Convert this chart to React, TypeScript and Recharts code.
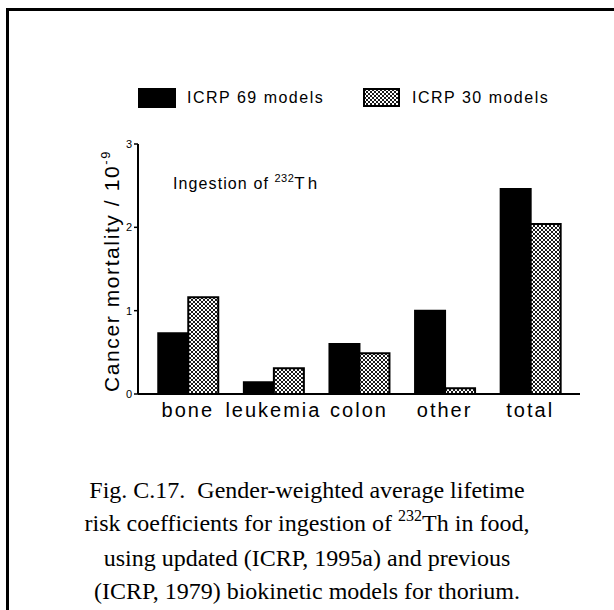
import React from "react";
import { BarChart, Bar, XAxis, YAxis, Legend, Customized } from "recharts";

const organs = ["bone", "leukemia", "colon", "other", "total"];
const icrp69 = [0.73, 0.14, 0.6, 1.0, 2.46];
const icrp30 = [1.16, 0.31, 0.49, 0.07, 2.04];
const yTicks = [0, 1, 2, 3];

const data = organs.map((name, i) => ({ name, icrp69: icrp69[i], icrp30: icrp30[i] }));

const SANS = "'Liberation Sans', Arial, Helvetica, sans-serif";
const SERIF = "'Liberation Serif', 'Times New Roman', Times, serif";

function Hatch({ id }: { id: string }) {
  return (
    <pattern id={id} width="4" height="4" patternUnits="userSpaceOnUse">
      <rect width="4" height="4" fill="#fff" />
      <path d="M0,0 L4,4 M4,0 L0,4" stroke="#000" strokeWidth="0.9" />
    </pattern>
  );
}

function LegendBox() {
  const item = (label: string, fill: React.ReactNode, width: number) => (
    <div style={{ display: "flex", alignItems: "center", width }}>
      <svg width={38} height={20} style={{ display: "block" }}>
        {fill}
      </svg>
      <span style={{ marginLeft: 11, fontFamily: SANS, fontSize: 16, letterSpacing: 1.5, color: "#000" }}>
        {label}
      </span>
    </div>
  );
  return (
    <div style={{ display: "flex", paddingLeft: 138 }}>
      {item("ICRP 69 models", <rect x={1} y={1} width={36} height={18} fill="#000" stroke="#000" strokeWidth={2} />, 225)}
      {item(
        "ICRP 30 models",
        <>
          <defs>
            <Hatch id="hatchLegend" />
          </defs>
          <rect x={1} y={1} width={35} height={17} fill="url(#hatchLegend)" stroke="#000" strokeWidth={2} />
        </>,
        225
      )}
    </div>
  );
}

function YLabel(props: any) {
  const cy = 271;
  return (
    <text
      x={119}
      y={cy}
      transform={`rotate(-90 119 ${cy})`}
      textAnchor="middle"
      fontFamily={SANS}
      fontSize={21}
      letterSpacing={1.6}
      fill="#000"
    >
      Cancer mortality / 10
      <tspan fontSize={13} dy={-9}>-9</tspan>
    </text>
  );
}

function Annotation() {
  return (
    <text x={173} y={189} fontFamily={SANS} fontSize={16} letterSpacing={1.1} fill="#000">
      Ingestion of{" "}
      <tspan fontSize={11} dy={-7} letterSpacing={0.5}>232</tspan>
      <tspan dy={7} fontSize={17} letterSpacing={3}>Th</tspan>
    </text>
  );
}

export default function App() {
  return (
    <div style={{ position: "absolute", left: 0, top: 0, width: 614, height: 610, background: "#fff", overflow: "hidden" }}>
      <div
        style={{
          position: "absolute",
          left: 6,
          top: 8,
          width: 700,
          height: 700,
          borderLeft: "3px solid #000",
          borderTop: "3px solid #000",
        }}
      />
      <div style={{ position: "absolute", left: 0, top: 0 }}>
        <BarChart
          width={614}
          height={610}
          data={data}
          margin={{ top: 144, right: 34, bottom: 186, left: 0 }}
          barCategoryGap="15.5%"
          barGap={0}
        >
          <defs>
            <Hatch id="hatchBar" />
          </defs>
          <XAxis
            dataKey="name"
            padding={{ left: 7, right: 7 }}
            axisLine={{ stroke: "#000", strokeWidth: 2 }}
            tickLine={false}
            tickSize={0}
            tickMargin={9}
            interval={0}
            tick={{ fontSize: 20, fill: "#000", fontFamily: SANS, letterSpacing: 2 } as any}
          />
          <YAxis
            width={138}
            domain={[0, 3]}
            ticks={yTicks}
            axisLine={{ stroke: "#000", strokeWidth: 2 }}
            tickLine={{ stroke: "#000", strokeWidth: 1.5 }}
            tickSize={4}
            tickMargin={2}
            tick={{ fontSize: 11, fill: "#000", fontFamily: SANS }}
            label={<YLabel />}
          />
          <Legend verticalAlign="middle" content={<LegendBox />} wrapperStyle={{ top: 88, left: 0, width: 614 }} />
          <Bar dataKey="icrp69" name="ICRP 69 models" fill="#000" stroke="#000" strokeWidth={2} isAnimationActive={false} />
          <Bar dataKey="icrp30" name="ICRP 30 models" fill="url(#hatchBar)" stroke="#000" strokeWidth={2} isAnimationActive={false} />
          <Customized component={<Annotation />} />
        </BarChart>
      </div>
      <div
        style={{
          position: "absolute",
          left: 0,
          top: 474,
          width: 614,
          textAlign: "center",
          fontFamily: SERIF,
          fontSize: 24,
          lineHeight: "33px",
          color: "#000",
        }}
      >
        <div>Fig. C.17.&nbsp; Gender-weighted average lifetime</div>
        <div>
          risk coefficients for ingestion of{" "}
          <span style={{ fontSize: 16, position: "relative", top: -10 }}>232</span>Th in food,
        </div>
        <div>using updated (ICRP, 1995a) and previous</div>
        <div>(ICRP, 1979) biokinetic models for thorium.</div>
      </div>
    </div>
  );
}
